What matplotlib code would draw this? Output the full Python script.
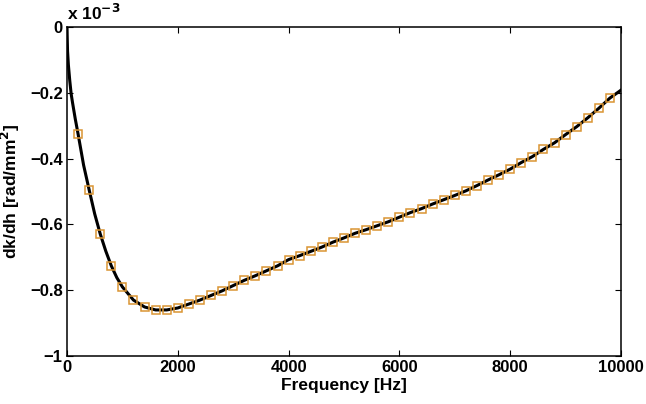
import numpy as np
import matplotlib
matplotlib.use('Agg')
import matplotlib.pyplot as plt
from matplotlib.ticker import FuncFormatter

plt.rcParams['font.family'] = ['Liberation Sans', 'DejaVu Sans']
plt.rcParams['font.weight'] = 'bold'

# marker series (values in 1e-3 rad/mm^2)
freq_pts = [200, 400, 600, 800, 1000, 1200, 1400, 1600, 1800, 2000,
            2200, 2400, 2600, 2800, 3000, 3200, 3400, 3600, 3800, 4000,
            4200, 4400, 4600, 4800, 5000, 5200, 5400, 5600, 5800, 6000,
            6200, 6400, 6600, 6800, 7000, 7200, 7400, 7600, 7800, 8000,
            8200, 8400, 8600, 8800, 9000, 9200, 9400, 9600, 9800]
dkdh_pts = [-0.325, -0.495, -0.629, -0.726, -0.790, -0.830, -0.851, -0.860, -0.860, -0.854,
            -0.842, -0.830, -0.816, -0.802, -0.786, -0.770, -0.756, -0.741, -0.726, -0.707,
            -0.695, -0.682, -0.669, -0.654, -0.641, -0.627, -0.616, -0.604, -0.592, -0.578,
            -0.564, -0.552, -0.538, -0.525, -0.512, -0.498, -0.482, -0.465, -0.449, -0.432,
            -0.412, -0.394, -0.372, -0.352, -0.327, -0.303, -0.276, -0.247, -0.216]

# solid curve: the marker readings plus extra readings where it bends
freq_extra = [0, 10, 25, 50, 75, 100, 150, 300, 500, 700, 900, 10000]
dkdh_extra = [0.0, -0.073, -0.115, -0.163, -0.203, -0.230, -0.280, -0.420, -0.568, -0.681, -0.762, -0.192]

line = sorted(zip(freq_extra + freq_pts, dkdh_extra + dkdh_pts))
freq_line = [f for f, _ in line]
dkdh_line = [d for _, d in line]

fig = plt.figure(figsize=(6.46, 4.04), dpi=100)
ax = fig.add_axes([0.1037, 0.1188, 0.8576, 0.8144])

ax.plot(freq_line, dkdh_line, color='black', lw=2.2, zorder=3)
ax.plot(freq_pts, dkdh_pts, ls='none', marker='s', ms=5.2, mfc='none',
        mec='#DA9533', mew=1.1, zorder=4)

ax.set_xlim(0, 10000)
ax.set_ylim(-1, 0)
ax.set_xticks(np.arange(0, 10001, 2000))
ax.set_yticks([-1, -0.8, -0.6, -0.4, -0.2, 0])


def yfmt(v, pos):
    s = '%g' % round(v, 1)
    return s.replace('-', '\u2212')


ax.yaxis.set_major_formatter(FuncFormatter(yfmt))
ax.tick_params(direction='in', length=4, width=0.8, top=True, right=True,
               labelsize=12, pad=3)
for lbl in ax.get_xticklabels() + ax.get_yticklabels():
    lbl.set_fontweight('bold')
for sp in ax.spines.values():
    sp.set_linewidth(1.1)

ax.set_xlabel('Frequency [Hz]', fontsize=12.5, fontweight='bold', labelpad=2)
ax.set_ylabel('dk/dh [rad/mm$^\\mathbf{2}$]', fontsize=12.5, fontweight='bold', labelpad=6)
ax.text(0.0, 1.012, 'x 10$^{\\mathbf{\u22123}}$', transform=ax.transAxes,
        fontsize=12.5, fontweight='bold', ha='left', va='bottom')

fig.savefig('out.png', dpi=100)
